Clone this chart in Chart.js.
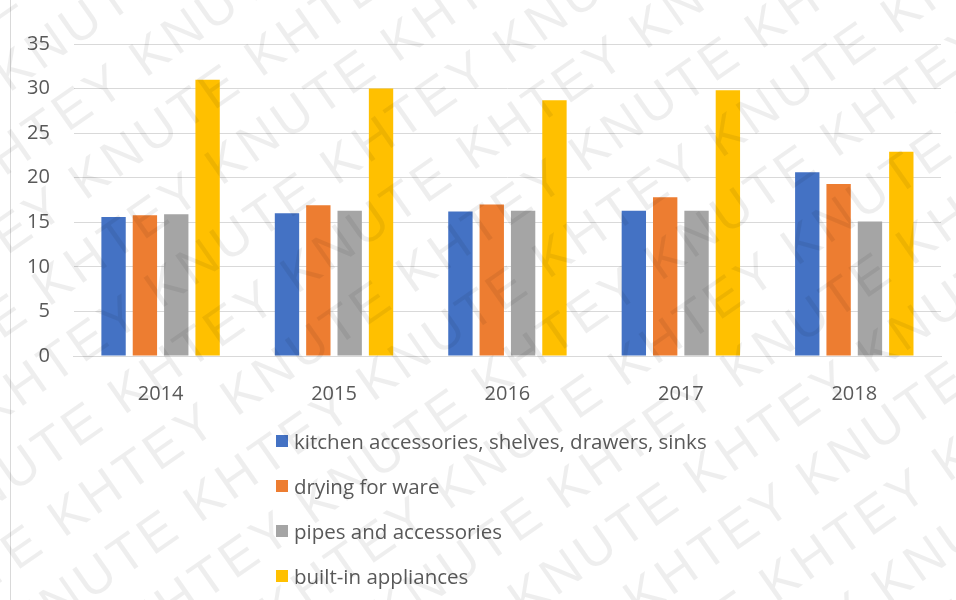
<!DOCTYPE html>
<html>
<head>
<meta charset="utf-8">
<script src="https://cdn.jsdelivr.net/npm/chart.js@4.4.1/dist/chart.umd.min.js"></script>
<style>
  html, body { margin: 0; padding: 0; background: #fff; }
  body { width: 956px; height: 600px; position: relative; overflow: hidden; font-family: "Open Sans", sans-serif; }
  .frame { position: absolute; left: 10px; top: 0; width: 1px; height: 600px; background: #d9d9d9; }
  .chart-box { position: absolute; left: 0; top: 0; width: 956px; height: 434px; }
  #legend { position: absolute; left: 276px; top: 418px; margin: 0; padding: 0; list-style: none; }
  #legend li { height: 45px; display: flex; align-items: center; font-size: 20.5px; color: #595959; }
  #legend li span.box { width: 12px; height: 12px; margin-right: 6px; display: inline-block; }
  .watermark { position: absolute; left: -300px; top: -400px; width: 1600px; height: 1400px; transform: rotate(-35deg); pointer-events: none; }
  .watermark div { font-size: 52px; line-height: 66px; color: rgba(0, 0, 0, 0.065); white-space: nowrap; letter-spacing: 4px; font-family: "Liberation Sans", sans-serif; }
</style>
</head>
<body>
<div class="frame"></div>
<div class="chart-box"><canvas id="myChart" width="956" height="434"></canvas></div>
<ul id="legend"></ul>
<div class="watermark" id="watermark"></div>
<script>
const years = ['2014', '2015', '2016', '2017', '2018'];
const kitchenAccessories = [15.6, 16.0, 16.2, 16.3, 20.6];
const dryingForWare = [15.8, 16.9, 17.0, 17.8, 19.3];
const pipesAccessories = [15.9, 16.3, 16.3, 16.3, 15.1];
const builtInAppliances = [31.0, 30.0, 28.7, 29.8, 22.9];
const yTicks = [0, 5, 10, 15, 20, 25, 30, 35];

const seriesNames = [
    'kitchen accessories, shelves, drawers, sinks',
    'drying for ware',
    'pipes and accessories',
    'built-in appliances'
];
const seriesColors = ['#4472c4', '#ed7d31', '#a5a5a5', '#ffc000'];
const seriesValues = [kitchenAccessories, dryingForWare, pipesAccessories, builtInAppliances];

const ctx = document.getElementById('myChart');

const chart = new Chart(ctx, {
    type: 'bar',
    data: {
        labels: years,
        datasets: seriesValues.map((vals, i) => ({
            label: seriesNames[i],
            data: vals,
            backgroundColor: seriesColors[i],
            categoryPercentage: 0.723,
            barPercentage: 0.777
        }))
    },
    options: {
        responsive: false,
        animation: false,
        layout: { padding: { top: 44, right: 15, bottom: 10, left: 3 } },
        plugins: {
            legend: { display: false },
            tooltip: { enabled: false }
        },
        scales: {
            x: {
                grid: { display: false },
                border: { color: '#d9d9d9', width: 1 },
                ticks: { color: '#595959', font: { family: 'Open Sans', size: 20 }, padding: 18 }
            },
            y: {
                min: 0,
                max: 35,
                afterBuildTicks: axis => { axis.ticks = yTicks.map(v => ({ value: v })); },
                grid: { color: '#d9d9d9', lineWidth: 1, drawTicks: false },
                border: { display: false },
                ticks: { color: '#595959', font: { family: 'Open Sans', size: 20 }, padding: 24 }
            }
        }
    }
});

// Legend, one item per line
const legend = document.getElementById('legend');
chart.data.datasets.forEach(ds => {
    const li = document.createElement('li');
    const box = document.createElement('span');
    box.className = 'box';
    box.style.background = ds.backgroundColor;
    li.appendChild(box);
    li.appendChild(document.createTextNode(ds.label));
    legend.appendChild(li);
});

// Watermark
const wm = document.getElementById('watermark');
for (let i = 0; i < 22; i++) {
    const line = document.createElement('div');
    line.style.marginLeft = (i % 2 ? -120 : 0) + 'px';
    line.textContent = 'KHTEY KNUTE '.repeat(12);
    wm.appendChild(line);
}
</script>
</body>
</html>
